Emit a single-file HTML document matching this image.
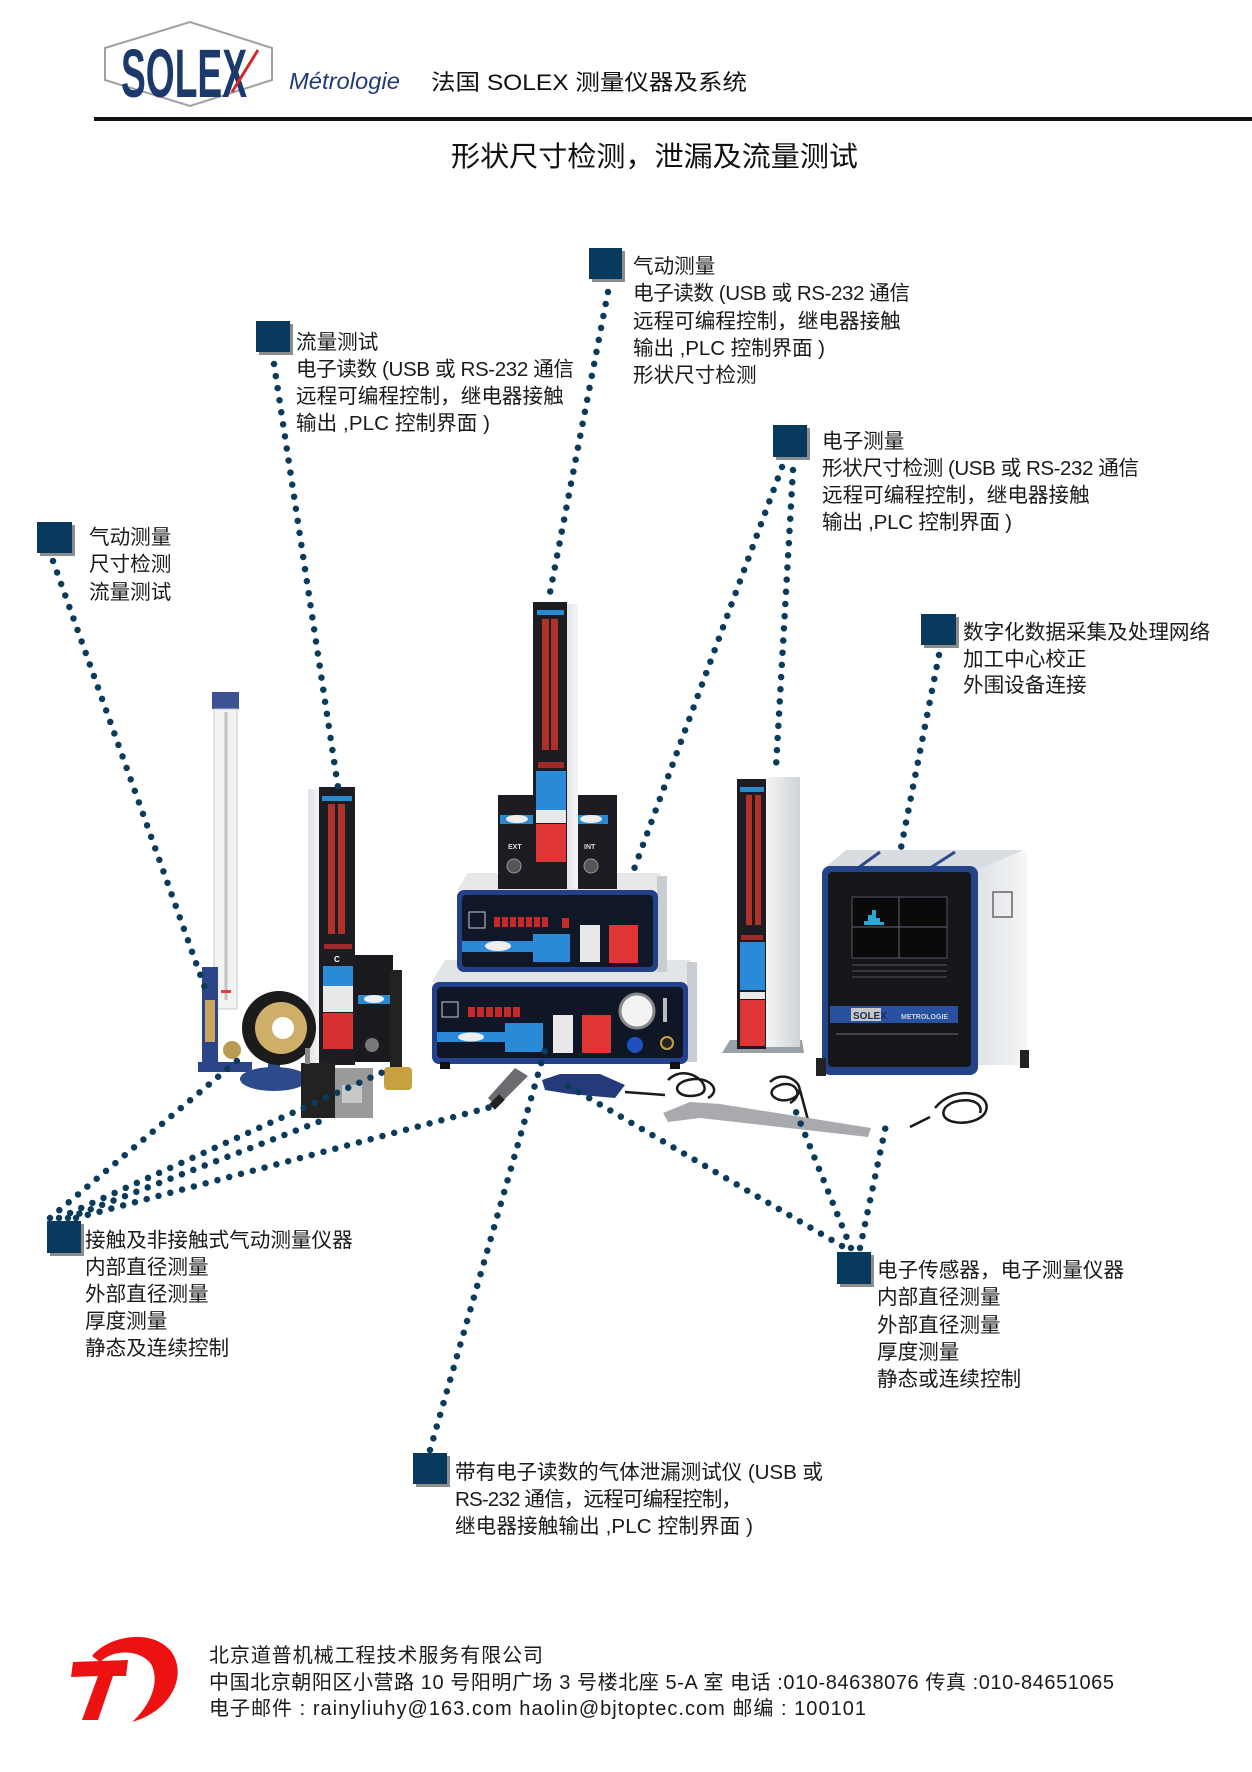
<!DOCTYPE html>
<html><head><meta charset="utf-8">
<style>
html,body{margin:0;padding:0;background:#fff;}
svg{display:block;}
text{font-family:"Liberation Sans","Noto Sans CJK SC",sans-serif;}
</style></head><body>
<svg width="1252" height="1772" viewBox="0 0 1252 1772" xmlns="http://www.w3.org/2000/svg">
<defs>
<linearGradient id="wh" x1="0" y1="0" x2="1" y2="0"><stop offset="0" stop-color="#f6f6f6"/><stop offset="1" stop-color="#cfd3d8"/></linearGradient>
<linearGradient id="wh2" x1="0" y1="0" x2="1" y2="0"><stop offset="0" stop-color="#dfe2e6"/><stop offset="1" stop-color="#f4f5f6"/></linearGradient>
</defs>
<rect width="1252" height="1772" fill="#fff"/>

<!-- HEADER -->
<polygon points="105,48 190,22 272,48 272,80 190,106 105,80" fill="#fff" stroke="#a0a0a0" stroke-width="2"/>
<text transform="translate(121,97) scale(1,1.72)" font-size="40" font-weight="bold" fill="#1b3a6b" textLength="126" lengthAdjust="spacingAndGlyphs">SOLEX</text>
<line x1="232" y1="92" x2="258" y2="50" stroke="#d42a2a" stroke-width="3"/>
<text x="289" y="89" font-size="23.5" font-style="italic" fill="#1f3c78" textLength="111" lengthAdjust="spacingAndGlyphs">Métrologie</text>
<text x="431" y="90" font-size="22" fill="#111" textLength="316" lengthAdjust="spacingAndGlyphs">法国 SOLEX 测量仪器及系统</text>
<rect x="94" y="117" width="1158" height="4" fill="#111"/>
<text x="451" y="166" font-size="28" fill="#111" textLength="407" lengthAdjust="spacingAndGlyphs">形状尺寸检测，泄漏及流量测试</text>

<!-- PHOTO -->
<!-- flowmeter -->
<rect x="212" y="692" width="27" height="17" fill="#3d5293"/>
<rect x="214" y="709" width="23" height="300" fill="#f3f3f3" stroke="#c8c8c8"/>
<line x1="226" y1="712" x2="226" y2="1000" stroke="#c2c2c2" stroke-width="3"/>
<rect x="221" y="990" width="10" height="3" fill="#e04040"/>
<rect x="202" y="967" width="16" height="100" fill="#2b4688"/>
<rect x="205" y="1000" width="10" height="42" fill="#c9a45e"/>
<rect x="198" y="1062" width="54" height="10" fill="#2b4688"/>
<circle cx="232" cy="1050" r="9" fill="#b89a50"/>
<!-- left column C -->
<rect x="308" y="789" width="12" height="276" fill="url(#wh2)"/>
<rect x="319" y="787" width="36" height="278" fill="#1c1c22"/>
<rect x="322" y="796" width="30" height="5" fill="#2a8ad0"/>
<rect x="328" y="804" width="7" height="130" fill="#b0302a"/>
<rect x="338" y="804" width="7" height="130" fill="#b0302a"/>
<rect x="324" y="944" width="28" height="5" fill="#a02a2a"/>
<text x="334" y="962" font-size="8" fill="#fff" font-weight="bold">C</text>
<rect x="323" y="966" width="30" height="20" fill="#2a8ad8"/>
<rect x="323" y="986" width="30" height="26" fill="#e8e8e8"/>
<rect x="323" y="1013" width="30" height="36" fill="#d83030"/>
<!-- black box -->
<rect x="355" y="955" width="38" height="107" fill="#1a1a1e"/>
<rect x="358" y="995" width="32" height="9" fill="#2a8ad0"/>
<ellipse cx="374" cy="999" rx="10" ry="4" fill="#eee"/>
<circle cx="372" cy="1045" r="7" fill="#777"/>
<!-- rod & brass -->
<rect x="390" y="970" width="12" height="100" fill="#222"/>
<rect x="384" y="1067" width="28" height="23" rx="4" fill="#c8a040"/>
<!-- ring gauge -->
<ellipse cx="274" cy="1079" rx="34" ry="12" fill="#2d4a8c"/>
<rect x="268" y="1055" width="12" height="22" fill="#2d4a8c"/>
<circle cx="279" cy="1028" r="37" fill="#1b1b1b"/>
<circle cx="281" cy="1028" r="26" fill="#cfae6a"/>
<circle cx="283" cy="1028" r="11" fill="#fff"/>
<!-- block -->
<rect x="301" y="1063" width="34" height="55" fill="#222"/>
<rect x="335" y="1068" width="38" height="50" fill="#9a9a9a"/>
<rect x="342" y="1085" width="20" height="18" fill="#c8c8c8"/>
<rect x="305" y="1048" width="5" height="16" fill="#888"/>

<!-- lower console -->
<polygon points="432,982 445,960 690,960 695,982" fill="#e2e5e8"/>
<rect x="687" y="962" width="10" height="100" fill="#c9cdd2"/>
<rect x="432" y="982" width="256" height="82" rx="7" fill="#23408a"/>
<rect x="437" y="987" width="246" height="71" rx="4" fill="#0f1626"/>
<rect x="442" y="1002" width="16" height="15" fill="none" stroke="#ccc" stroke-width="1"/>
<g fill="#c42a2a"><rect x="468" y="1007" width="7" height="10"/><rect x="477" y="1007" width="7" height="10"/><rect x="486" y="1007" width="7" height="10"/><rect x="495" y="1007" width="7" height="10"/><rect x="504" y="1007" width="7" height="10"/><rect x="513" y="1007" width="7" height="10"/></g>
<rect x="437" y="1032" width="70" height="10" fill="#2a8ad8"/>
<ellipse cx="471" cy="1037" rx="13" ry="4.5" fill="#eee"/>
<rect x="505" y="1023" width="38" height="29" fill="#2a8ad8"/>
<rect x="553" y="1015" width="20" height="38" fill="#e8e8e8"/>
<rect x="582" y="1015" width="29" height="38" fill="#e03535"/>
<circle cx="637" cy="1011" r="17" fill="#f2f2f2" stroke="#888" stroke-width="3"/>
<circle cx="635" cy="1045" r="8" fill="#2050c0"/>
<rect x="663" y="998" width="4" height="24" fill="#bbb"/>
<circle cx="667" cy="1043" r="6" fill="#222" stroke="#c8a040" stroke-width="2"/>
<rect x="440" y="1062" width="10" height="7" fill="#111"/><rect x="670" y="1062" width="10" height="7" fill="#111"/>

<!-- upper console -->
<polygon points="457,890 468,873 660,873 667,890" fill="#e6e8ea"/>
<rect x="657" y="876" width="10" height="96" fill="#c9cdd2"/>
<rect x="457" y="890" width="201" height="82" rx="7" fill="#23408a"/>
<rect x="462" y="895" width="191" height="72" rx="4" fill="#101727"/>
<rect x="469" y="912" width="16" height="16" fill="none" stroke="#ccc" stroke-width="1"/>
<g fill="#c42a2a"><rect x="494" y="917" width="6" height="10"/><rect x="502" y="917" width="6" height="10"/><rect x="510" y="917" width="6" height="10"/><rect x="518" y="917" width="6" height="10"/><rect x="526" y="917" width="6" height="10"/><rect x="534" y="917" width="6" height="10"/><rect x="542" y="917" width="6" height="10"/><rect x="562" y="918" width="7" height="10"/></g>
<rect x="462" y="941" width="72" height="11" fill="#2a8ad8"/>
<ellipse cx="498" cy="946" rx="13" ry="5" fill="#eee"/>
<rect x="533" y="934" width="37" height="28" fill="#2a8ad8"/>
<rect x="580" y="925" width="20" height="37" fill="#e8e8e8"/>
<rect x="609" y="925" width="29" height="38" fill="#e03535"/>

<!-- EXT / INT boxes -->
<rect x="498" y="795" width="38" height="94" fill="#1c1c22"/>
<rect x="500" y="815" width="34" height="9" fill="#2a8ad0"/>
<ellipse cx="517" cy="819" rx="11" ry="4" fill="#eee"/>
<text x="508" y="849" font-size="7" font-weight="bold" fill="#ddd">EXT</text>
<circle cx="514" cy="866" r="7" fill="#555" stroke="#999"/>
<rect x="571" y="795" width="46" height="94" fill="#1c1c22"/>
<rect x="574" y="815" width="34" height="9" fill="#2a8ad0"/>
<ellipse cx="591" cy="819" rx="11" ry="4" fill="#eee"/>
<text x="584" y="849" font-size="7" font-weight="bold" fill="#ddd">INT</text>
<circle cx="591" cy="866" r="7" fill="#555" stroke="#999"/>

<!-- center column -->
<rect x="566" y="604" width="12" height="285" fill="url(#wh2)"/>
<rect x="533" y="602" width="34" height="287" fill="#1c1c22"/>
<rect x="537" y="610" width="27" height="5" fill="#2a8ad0"/>
<rect x="542" y="619" width="7" height="131" fill="#b0302a"/>
<rect x="551" y="619" width="7" height="131" fill="#b0302a"/>
<rect x="538" y="762" width="26" height="6" fill="#a02a2a"/>
<rect x="536" y="771" width="30" height="39" fill="#2a8ad8"/>
<rect x="536" y="810" width="30" height="13" fill="#e8e8e8"/>
<rect x="536" y="824" width="30" height="38" fill="#e03535"/>

<!-- right column -->
<polygon points="722,1053 730,1040 802,1040 804,1053" fill="#9aa0a8"/>
<rect x="765" y="777" width="35" height="270" fill="url(#wh)"/>
<rect x="737" y="779" width="29" height="270" fill="#1c1c22"/>
<rect x="740" y="787" width="24" height="5" fill="#2a8ad0"/>
<rect x="746" y="795" width="6" height="130" fill="#b0302a"/>
<rect x="755" y="795" width="6" height="130" fill="#b0302a"/>
<rect x="741" y="935" width="22" height="5" fill="#a02a2a"/>
<rect x="740" y="942" width="25" height="48" fill="#2a8ad8"/>
<rect x="740" y="992" width="25" height="7" fill="#e8e8e8"/>
<rect x="740" y="1000" width="25" height="46" fill="#e03535"/>

<!-- monitor -->
<rect x="975" y="852" width="52" height="213" fill="url(#wh2)"/>
<polygon points="822,870 846,850 1024,850 977,870" fill="#d9dde2"/>
<line x1="858" y1="868" x2="880" y2="852" stroke="#2c4a8c" stroke-width="3"/>
<line x1="930" y1="868" x2="955" y2="852" stroke="#2c4a8c" stroke-width="3"/>
<rect x="993" y="892" width="19" height="25" fill="none" stroke="#888" stroke-width="2"/>
<rect x="822" y="866" width="156" height="209" rx="8" fill="#244489"/>
<rect x="828" y="872" width="143" height="195" rx="4" fill="#15161a"/>
<rect x="852" y="897" width="95" height="61" fill="#0a0a0a" stroke="#556" stroke-width="1"/>
<line x1="899" y1="897" x2="899" y2="958" stroke="#667" stroke-width="1"/>
<line x1="852" y1="927" x2="947" y2="927" stroke="#667" stroke-width="1"/>
<path d="M858,925 h6 v-4 h4 v-6 h4 v-5 h4 v8 h4 v4 h4 v3 h4 z" fill="#29a8d8"/>
<g stroke="#555" stroke-width="1"><line x1="852" y1="965" x2="947" y2="965"/><line x1="852" y1="971" x2="947" y2="971"/><line x1="852" y1="977" x2="947" y2="977"/></g>
<rect x="830" y="1006" width="128" height="17" fill="#2a50a0"/>
<rect x="851" y="1008" width="30" height="13" fill="#c8c8c8"/>
<text x="853" y="1019" font-size="10" font-weight="bold" fill="#1b2a5a">SOLEX</text>
<text x="901" y="1019" font-size="7" font-weight="bold" fill="#c8d0e0">METROLOGIE</text>
<line x1="836" y1="1034" x2="958" y2="1034" stroke="#444" stroke-width="2"/>
<rect x="816" y="1058" width="10" height="18" fill="#222"/><rect x="1020" y="1050" width="9" height="18" fill="#222"/>

<!-- cables, sensors, caliper -->
<polygon points="497,1107 488,1098 515,1068 528,1076" fill="#6c6c70"/>
<rect x="490" y="1098" width="14" height="8" fill="#222" transform="rotate(-45 497 1102)"/>
<path d="M542,1080 L560,1074 L600,1074 L625,1085 L615,1098 L570,1094 L545,1090 Z" fill="#253a78"/>
<path d="M625,1092 L665,1095 M668,1080 c20,-20 50,10 30,15 c-20,5 -30,-10 -10,-15 c20,-5 35,10 20,18" fill="none" stroke="#1a1a1a" stroke-width="2.5"/>
<path d="M770,1082 c15,-15 40,5 25,15 c-15,10 -35,-5 -15,-12 c15,-5 25,10 10,18 M800,1090 l8,30" fill="none" stroke="#1a1a1a" stroke-width="2.5"/>
<path d="M935,1108 c20,-25 60,-15 50,5 c-10,15 -50,12 -40,-5 c10,-12 40,-10 35,5 M930,1117 l-20,10" fill="none" stroke="#1a1a1a" stroke-width="2.5"/>
<polygon points="663,1113 690,1102 720,1104 871,1128 868,1137 700,1118 668,1122" fill="#a8aaae"/>

<!-- DOTTED CONNECTORS -->
<g fill="none" stroke="#0b3b5b" stroke-width="6.5" stroke-linecap="round" stroke-dasharray="0 12.2">
<path d="M53,561 L206,991"/>
<path d="M274,364 L338,787"/>
<path d="M608,292 L548,603"/>
<path d="M782,467 L633,872"/>
<path d="M793,470 L776,767"/>
<path d="M939,655 L899,858"/>
<path d="M50,1218 L244,1055"/>
<path d="M59,1218 L392,1068"/>
<path d="M68,1218 L326,1119"/>
<path d="M76,1218 L491,1107"/>
<path d="M430,1450 L545,1050"/>
<path d="M842,1246 L565,1084"/>
<path d="M851,1248 L794,1107"/>
<path d="M860,1248 L886,1125"/>
</g>

<!-- LABEL SQUARES -->
<g>
<rect x="592" y="251" width="33" height="31" fill="#8c8c8c"/><rect x="589" y="248" width="33" height="31" fill="#073a5c"/>
<rect x="259" y="324" width="34" height="31" fill="#8c8c8c"/><rect x="256" y="321" width="34" height="31" fill="#073a5c"/>
<rect x="776" y="428" width="34" height="32" fill="#8c8c8c"/><rect x="773" y="425" width="34" height="32" fill="#073a5c"/>
<rect x="40" y="525" width="35" height="31" fill="#8c8c8c"/><rect x="37" y="522" width="35" height="31" fill="#073a5c"/>
<rect x="924" y="617" width="35" height="31" fill="#8c8c8c"/><rect x="921" y="614" width="35" height="31" fill="#073a5c"/>
<rect x="50" y="1224" width="34" height="32" fill="#8c8c8c"/><rect x="47" y="1221" width="34" height="32" fill="#073a5c"/>
<rect x="840" y="1255" width="34" height="32" fill="#8c8c8c"/><rect x="837" y="1252" width="34" height="32" fill="#073a5c"/>
<rect x="416" y="1456" width="34" height="31" fill="#8c8c8c"/><rect x="413" y="1453" width="34" height="31" fill="#073a5c"/>
</g>

<!-- LABEL TEXT -->
<g font-size="20.6" fill="#1a1a1a">
<text x="633" y="273">气动测量</text>
<text x="633" y="300" textLength="277" lengthAdjust="spacing">电子读数 (USB 或 RS-232 通信</text>
<text x="633" y="328">远程可编程控制，继电器接触</text>
<text x="633" y="355" textLength="192" lengthAdjust="spacing">输出 ,PLC 控制界面 )</text>
<text x="633" y="382">形状尺寸检测</text>

<text x="296" y="349">流量测试</text>
<text x="296" y="376" textLength="278" lengthAdjust="spacing">电子读数 (USB 或 RS-232 通信</text>
<text x="296" y="403">远程可编程控制，继电器接触</text>
<text x="296" y="430" textLength="194" lengthAdjust="spacing">输出 ,PLC 控制界面 )</text>

<text x="822" y="448">电子测量</text>
<text x="822" y="475" textLength="317" lengthAdjust="spacing">形状尺寸检测 (USB 或 RS-232 通信</text>
<text x="822" y="502">远程可编程控制，继电器接触</text>
<text x="822" y="529" textLength="190" lengthAdjust="spacing">输出 ,PLC 控制界面 )</text>

<text x="89" y="544">气动测量</text>
<text x="89" y="571">尺寸检测</text>
<text x="89" y="599">流量测试</text>

<text x="963" y="639">数字化数据采集及处理网络</text>
<text x="963" y="666">加工中心校正</text>
<text x="963" y="692">外围设备连接</text>

<text x="85" y="1247">接触及非接触式气动测量仪器</text>
<text x="85" y="1274">内部直径测量</text>
<text x="85" y="1301">外部直径测量</text>
<text x="85" y="1328">厚度测量</text>
<text x="85" y="1355">静态及连续控制</text>

<text x="877" y="1277">电子传感器，电子测量仪器</text>
<text x="877" y="1304">内部直径测量</text>
<text x="877" y="1332">外部直径测量</text>
<text x="877" y="1359">厚度测量</text>
<text x="877" y="1386">静态或连续控制</text>

<text x="455" y="1479" textLength="368" lengthAdjust="spacing">带有电子读数的气体泄漏测试仪 (USB 或</text>
<text x="455" y="1506" textLength="287" lengthAdjust="spacing">RS-232 通信，远程可编程控制，</text>
<text x="455" y="1533" textLength="298" lengthAdjust="spacing">继电器接触输出 ,PLC 控制界面 )</text>
</g>

<!-- FOOTER -->
<path d="M92,1656 C108,1636 150,1628 170,1650 C188,1672 174,1710 132,1722 C152,1704 160,1680 151,1664 C141,1650 114,1648 100,1662 Z" fill="#ee1111"/>
<polygon points="73,1662 128,1660 126,1676 113,1676 98,1720 82,1720 98,1676 71,1677" fill="#ee1111"/>
<g font-size="20" fill="#1a1a1a">
<text x="209" y="1662" textLength="334" lengthAdjust="spacing">北京道普机械工程技术服务有限公司</text>
<text x="209" y="1689" textLength="905" lengthAdjust="spacing">中国北京朝阳区小营路 10 号阳明广场 3 号楼北座 5-A 室 电话 :010-84638076 传真 :010-84651065</text>
<text x="209" y="1715" textLength="657" lengthAdjust="spacing">电子邮件 : rainyliuhy@163.com haolin@bjtoptec.com 邮编 : 100101</text>
</g>
</svg>
</body></html>
